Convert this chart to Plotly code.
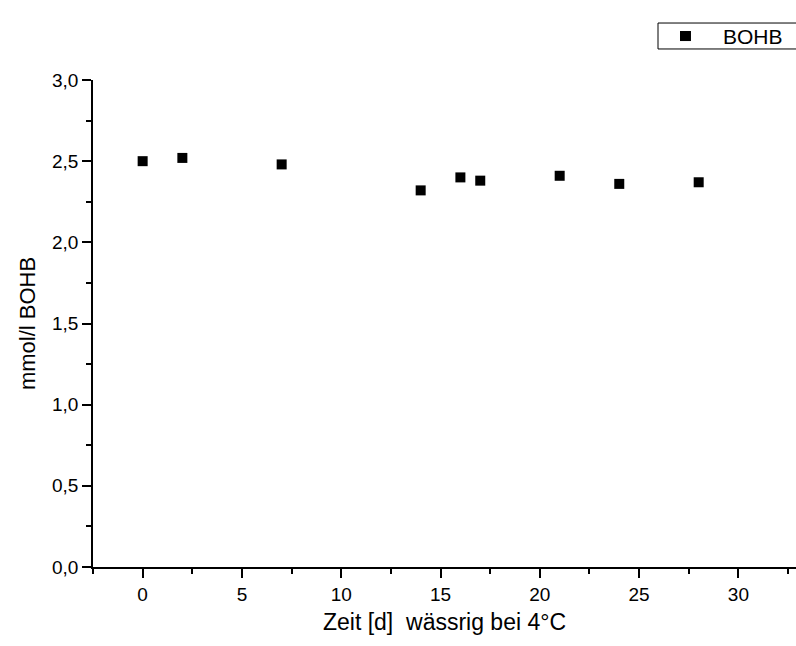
import plotly.graph_objects as go

days = [0, 2, 7, 14, 16, 17, 21, 24, 28]
bohb = [2.50, 2.52, 2.48, 2.32, 2.40, 2.38, 2.41, 2.36, 2.37]
x_ticks = [0, 5, 10, 15, 20, 25, 30]
y_ticks = [0.0, 0.5, 1.0, 1.5, 2.0, 2.5, 3.0]
y_labels = ["0,0", "0,5", "1,0", "1,5", "2,0", "2,5", "3,0"]
series_name = "BOHB"

FONT = "Liberation Sans, Arial, sans-serif"

fig = go.Figure()
fig.add_trace(go.Scatter(
    x=days, y=bohb, mode="markers", name=series_name,
    marker=dict(symbol="square", size=10, color="black"),
    showlegend=False,
))

# Legend box drawn manually (compact Origin-style legend)
fig.add_shape(type="rect", xref="paper", yref="paper",
              x0=0.8037, x1=1.01, y0=1.0637, y1=1.117,
              line=dict(color="black", width=1), fillcolor="white")
fig.add_shape(type="rect", xref="paper", yref="paper",
              x0=0.8350, x1=0.8506, y0=1.080, y1=1.1006,
              line=dict(width=0), fillcolor="black")
fig.add_annotation(text=series_name, xref="paper", yref="paper",
                   x=0.8933, y=1.0903, xanchor="left", yanchor="middle",
                   showarrow=False, font=dict(size=21))

fig.update_layout(
    width=796, height=646,
    margin=dict(l=93, r=0, t=80, b=79),
    paper_bgcolor="white", plot_bgcolor="white",
    font=dict(family=FONT, size=19, color="black"),
    xaxis=dict(
        range=[-2.5, 32.9], showgrid=False, zeroline=False,
        showline=True, linecolor="black", linewidth=1.5,
        ticks="outside", ticklen=9, tickwidth=1.5, tickcolor="black",
        tickvals=x_ticks, ticktext=[str(v) for v in x_ticks],
        minor=dict(ticks="outside", ticklen=5, tickwidth=1.5, tickcolor="black", dtick=2.5, tick0=0),
        title=dict(text="Zeit [d]  wässrig bei 4°C", font=dict(size=23), standoff=10),
        tickfont=dict(size=19),
    ),
    yaxis=dict(
        range=[0, 3.0], showgrid=False, zeroline=False,
        showline=True, linecolor="black", linewidth=1.5,
        ticks="outside", ticklen=9, tickwidth=1.5, tickcolor="black",
        tickvals=y_ticks, ticktext=y_labels,
        minor=dict(ticks="outside", ticklen=5, tickwidth=1.5, tickcolor="black", dtick=0.25, tick0=0),
        title=dict(text="mmol/l BOHB", font=dict(size=22), standoff=10),
        tickfont=dict(size=19),
    ),
)

fig.write_html("out.html")
